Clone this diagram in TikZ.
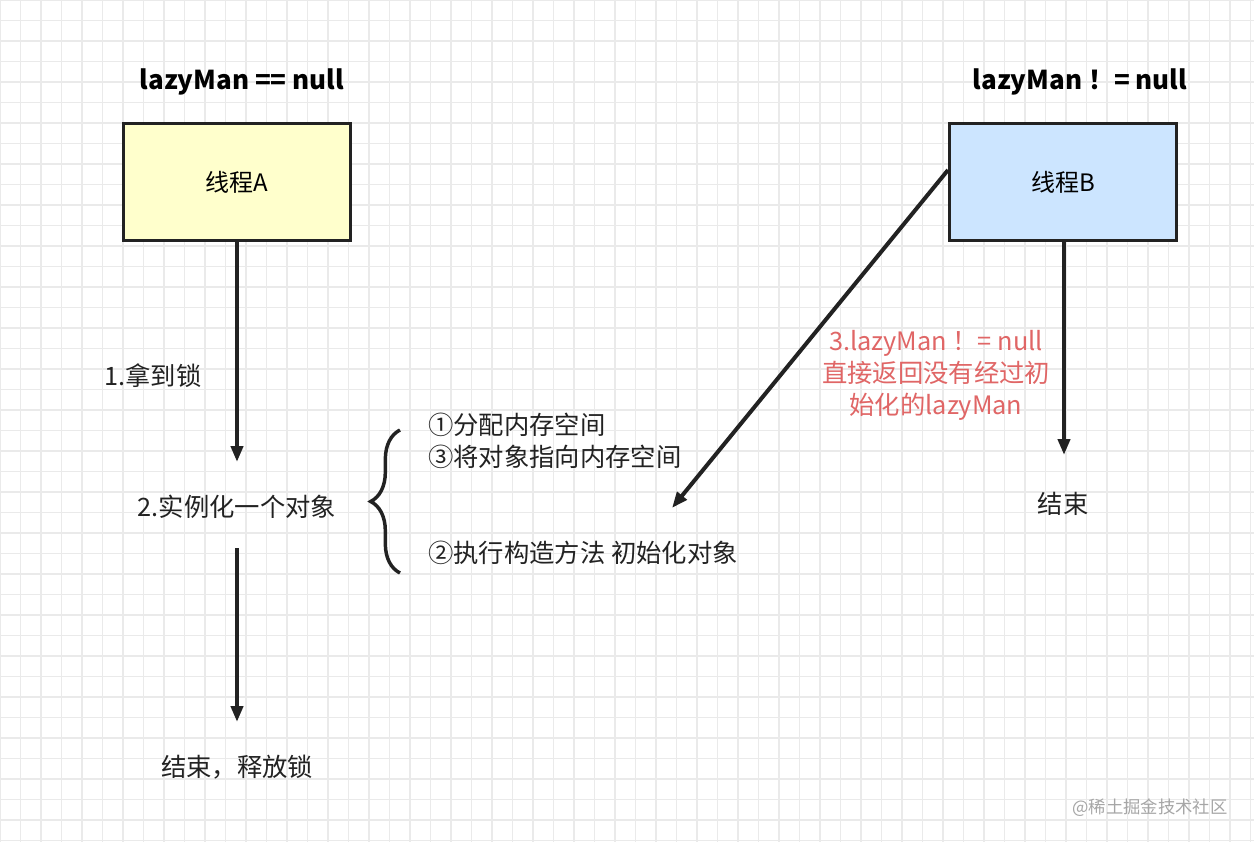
\documentclass[tikz,border=0pt]{standalone}
\usepackage{fontspec}
\setmainfont{Noto Sans CJK SC}
\usetikzlibrary{arrows.meta,decorations.pathreplacing}
\definecolor{gridc}{RGB}{234,234,234}
\definecolor{boxA}{RGB}{255,255,204}
\definecolor{boxB}{RGB}{204,229,255}
\definecolor{redt}{RGB}{224,102,102}
\definecolor{edge}{RGB}{34,34,34}
\begin{document}
\begin{tikzpicture}[x=0.75pt,y=-0.75pt,
  box/.style={draw=edge,line width=2.6pt,minimum width=170pt,minimum height=88pt,font=\fontsize{18}{21}\selectfont},
  lab/.style={font=\fontsize{19}{23}\selectfont,text=edge,inner sep=0},
  hd/.style={font=\fontsize{19.5}{23}\selectfont\bfseries,text=black,inner sep=0},
  arr/.style={draw=edge,line width=3pt,-{Triangle[length=12pt,width=9pt]}}]
\useasboundingbox (0,0) rectangle (1254,842);
\fill[white] (0,0) rectangle (1254,842);
\foreach \i in {0,...,62} \draw[gridc,line width=0.8pt] (\i*20.5,0) -- (\i*20.5,842);
\foreach \i in {0,...,41} \draw[gridc,line width=0.8pt] (0,\i*20.5) -- (1254,\i*20.5);
\node[hd] (hA) at (242,82) {lazyMan == null};
\node[hd] (hB) at (1080,82) {lazyMan ！= null};
\node[box,fill=boxA] (A) at (237,182) {线程A};
\node[box,fill=boxB] (B) at (1063,182) {线程B};
\coordinate (a1) at (237,462);
\draw[arr] (A.south) -- (a1);
\node[lab] (l1) at (153,376) {1.拿到锁};
\node[lab] (obj) at (237,507) {2.实例化一个对象};
\coordinate (a2s) at (237,548);
\coordinate (a2e) at (237,722);
\draw[arr] (a2s) -- (a2e);
\node[lab] (end1) at (237,767) {结束，释放锁};
\draw[edge,line width=2.6pt,decorate,decoration={brace,amplitude=22pt,aspect=0.5}] (400,573) -- (400,430);
\node[lab,anchor=west] (s1) at (428,425) {①分配内存空间};
\node[lab,anchor=west] (s3) at (428,457) {③将对象指向内存空间};
\node[lab,anchor=west] (s2) at (428,553) {②执行构造方法 初始化对象};
\coordinate (bt) at (672,508);
\draw[arr] (948,170) -- (bt);
\node[lab,text=redt,align=center] (rt) at (936,375) {3.lazyMan ！= null\\[1pt]直接返回没有经过初\\[1pt]始化的lazyMan};
\coordinate (b1) at (1064,455);
\draw[arr] (B.south -| b1) -- (b1);
\node[lab] (end2) at (1063,504) {结束};
\node[font=\fontsize{13}{15}\selectfont,text=gray!70,inner sep=0] (wm) at (1150,808) {@稀土掘金技术社区};
\end{tikzpicture}
\end{document}
